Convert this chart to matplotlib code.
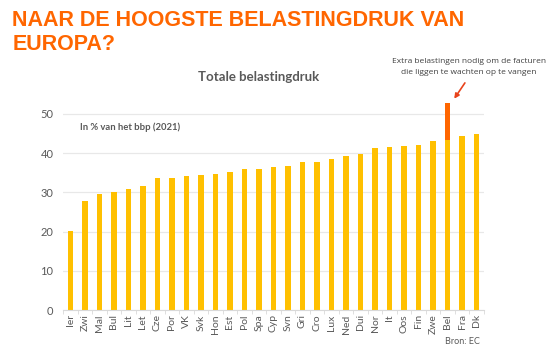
import matplotlib.pyplot as plt
import numpy as np

# ============================================
# Data
# ============================================
landen = ["Ier", "Zwi", "Mal", "Bul", "Lit", "Let", "Cze", "Por", "VK", "Svk",
          "Hon", "Est", "Pol", "Spa", "Cyp", "Svn", "Gri", "Cro", "Lux", "Ned",
          "Dui", "Nor", "It", "Oos", "Fin", "Zwe", "Bel", "Fra", "Dk"]
belastingdruk = [20.2, 27.8, 29.5, 30.2, 30.8, 31.6, 33.7, 33.8, 34.1, 34.4,
                 34.7, 35.3, 35.9, 36.0, 36.4, 36.7, 37.7, 37.7, 38.5, 39.3,
                 39.7, 41.2, 41.7, 41.9, 42.0, 43.1, 43.3, 44.3, 45.0]
extra = [0] * 26 + [9.4, 0, 0]
y_ticks = [0, 10, 20, 30, 40, 50]

geel = "#FFC000"
oranje = "#FF6600"
grijs = "#595959"

plt.rcParams["font.family"] = ["Lato", "DejaVu Sans"]

fig = plt.figure(figsize=(5.53, 3.52), dpi=100)
ax = fig.add_axes([0.114, 0.119, 0.761, 0.613])

x = np.arange(len(landen))
ax.bar(x, belastingdruk, width=0.38, color=geel, zorder=2)
ax.bar(x, extra, bottom=belastingdruk, width=0.38, color=oranje, zorder=2)

ax.set_xlim(-0.5, len(landen) - 0.5)
ax.set_ylim(0, 55)
ax.set_yticks(y_ticks)
ax.set_xticks(x)
ax.set_xticklabels(landen, rotation=90, fontsize=7.5, color=grijs)
ax.tick_params(axis="x", length=0, pad=3)
ax.set_xticks(np.arange(-0.5, len(landen), 1), minor=True)
ax.tick_params(axis="x", which="minor", length=3, color="#D9D9D9")
ax.tick_params(axis="y", length=0, labelsize=8, labelcolor=grijs, pad=7)
ax.grid(axis="y", color="#E8E8E8", linewidth=0.9, zorder=0)
for s in ["top", "right", "left"]:
    ax.spines[s].set_visible(False)
ax.spines["bottom"].set_color("#D9D9D9")

# ============================================
# Text
# ============================================
fig.text(0.022, 0.972, "NAAR DE HOOGSTE BELASTINGDRUK VAN\nEUROPA?",
         fontsize=15.5, fontweight="bold", color=oranje, va="top",
         family="Liberation Sans", linespacing=1.21)
fig.text(0.467, 0.781, "Totale belastingdruk", fontsize=9.5, fontweight="bold",
         color=grijs, ha="center", va="center")
fig.text(0.145, 0.638, "In % van het bbp (2021)", fontsize=6.8,
         fontweight="bold", color=grijs, va="center")
fig.text(0.848, 0.81, "Extra belastingen nodig om de facturen\ndie liggen te wachten op te vangen",
         fontsize=6, color="#404040", ha="center", va="center",
         family="Open Sans", linespacing=1.8)
fig.text(0.868, 0.03, "Bron: EC", fontsize=6.5, color=grijs, ha="right", va="center")

ax.annotate("", xy=(26.35, 53.3), xytext=(27.3, 58.5),
            arrowprops=dict(arrowstyle="-|>", color="#E8431B", lw=1.2,
                            mutation_scale=7),
            annotation_clip=False)

plt.savefig("out.png", dpi=100)
